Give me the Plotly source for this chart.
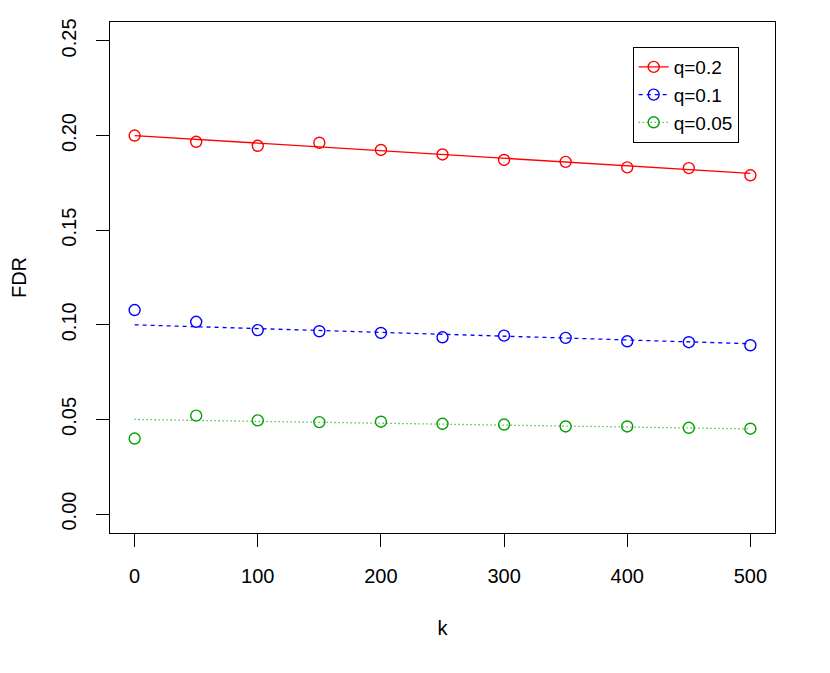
import plotly.graph_objects as go

# k values where FDR was estimated
k = [0, 50, 100, 150, 200, 250, 300, 350, 400, 450, 500]

# observed FDR per nominal level q
fdr_q02 = [0.2000, 0.1967, 0.1946, 0.1962, 0.1924, 0.1900, 0.1871, 0.1861, 0.1832, 0.1828, 0.1790]
fdr_q01 = [0.1078, 0.1016, 0.0972, 0.0966, 0.0957, 0.0934, 0.0943, 0.0931, 0.0913, 0.0908, 0.0892]
fdr_q005 = [0.0399, 0.0520, 0.0495, 0.0486, 0.0488, 0.0477, 0.0473, 0.0463, 0.0463, 0.0456, 0.0451]

# reference lines (endpoints)
line_k = [0, 500]
ref_q02 = [0.20, 0.18]
ref_q01 = [0.10, 0.09]
ref_q005 = [0.05, 0.045]

series = [
    ("q=0.2", fdr_q02, ref_q02, "#FF0000", "solid"),
    ("q=0.1", fdr_q01, ref_q01, "#0000FF", "4px,4px"),
    ("q=0.05", fdr_q005, ref_q005, "#00A000", "1px,3px"),
]

fig = go.Figure()

for name, pts, ref, color, dash in series:
    # reference line
    fig.add_trace(go.Scatter(
        x=line_k, y=ref, mode='lines', showlegend=False,
        line=dict(color=color, width=1.3, dash=dash)
    ))
    # observed points
    fig.add_trace(go.Scatter(
        x=k, y=pts, mode='markers', showlegend=False,
        marker=dict(symbol='circle-open', size=11, color=color, line=dict(width=1.4))
    ))
    # legend entry only
    fig.add_trace(go.Scatter(
        x=[None], y=[None], mode='lines+markers', name=name,
        line=dict(color=color, width=1.3, dash=dash),
        marker=dict(symbol='circle-open', size=11, color=color, line=dict(width=1.4))
    ))

axis_style = dict(
    showline=True, linecolor='black', linewidth=1, mirror=True,
    ticks='outside', ticklen=13, tickwidth=1, tickcolor='black',
    showgrid=False, zeroline=False, automargin=False,
    tickfont=dict(size=20, color='black'),
)

fig.update_xaxes(
    range=[-20, 520], tickvals=[0, 100, 200, 300, 400, 500],
    ticklabelstandoff=12,
    title=dict(text='k', font=dict(size=20, color='black'), standoff=34),
    **axis_style
)
fig.update_yaxes(
    range=[-0.01, 0.26], tickvals=[0, 0.05, 0.10, 0.15, 0.20, 0.25],
    tickformat='.2f', tickangle=-90, ticklabelstandoff=12,
    title=dict(text='FDR', font=dict(size=20, color='black'), standoff=34),
    **axis_style
)

# page body adds an 8px offset, so the figure is sized to fit the window
fig.update_layout(
    width=822, height=665,
    margin=dict(l=102, r=55, t=14, b=140),
    plot_bgcolor='white', paper_bgcolor='white',
    font=dict(family='Liberation Sans, Arial, sans-serif', size=20, color='black'),
    legend=dict(
        x=0.786, y=0.951, xanchor='left', yanchor='top',
        bordercolor='black', borderwidth=1, bgcolor='white',
        font=dict(size=19), tracegroupgap=0,
    ),
)

fig.write_html("out.html")
